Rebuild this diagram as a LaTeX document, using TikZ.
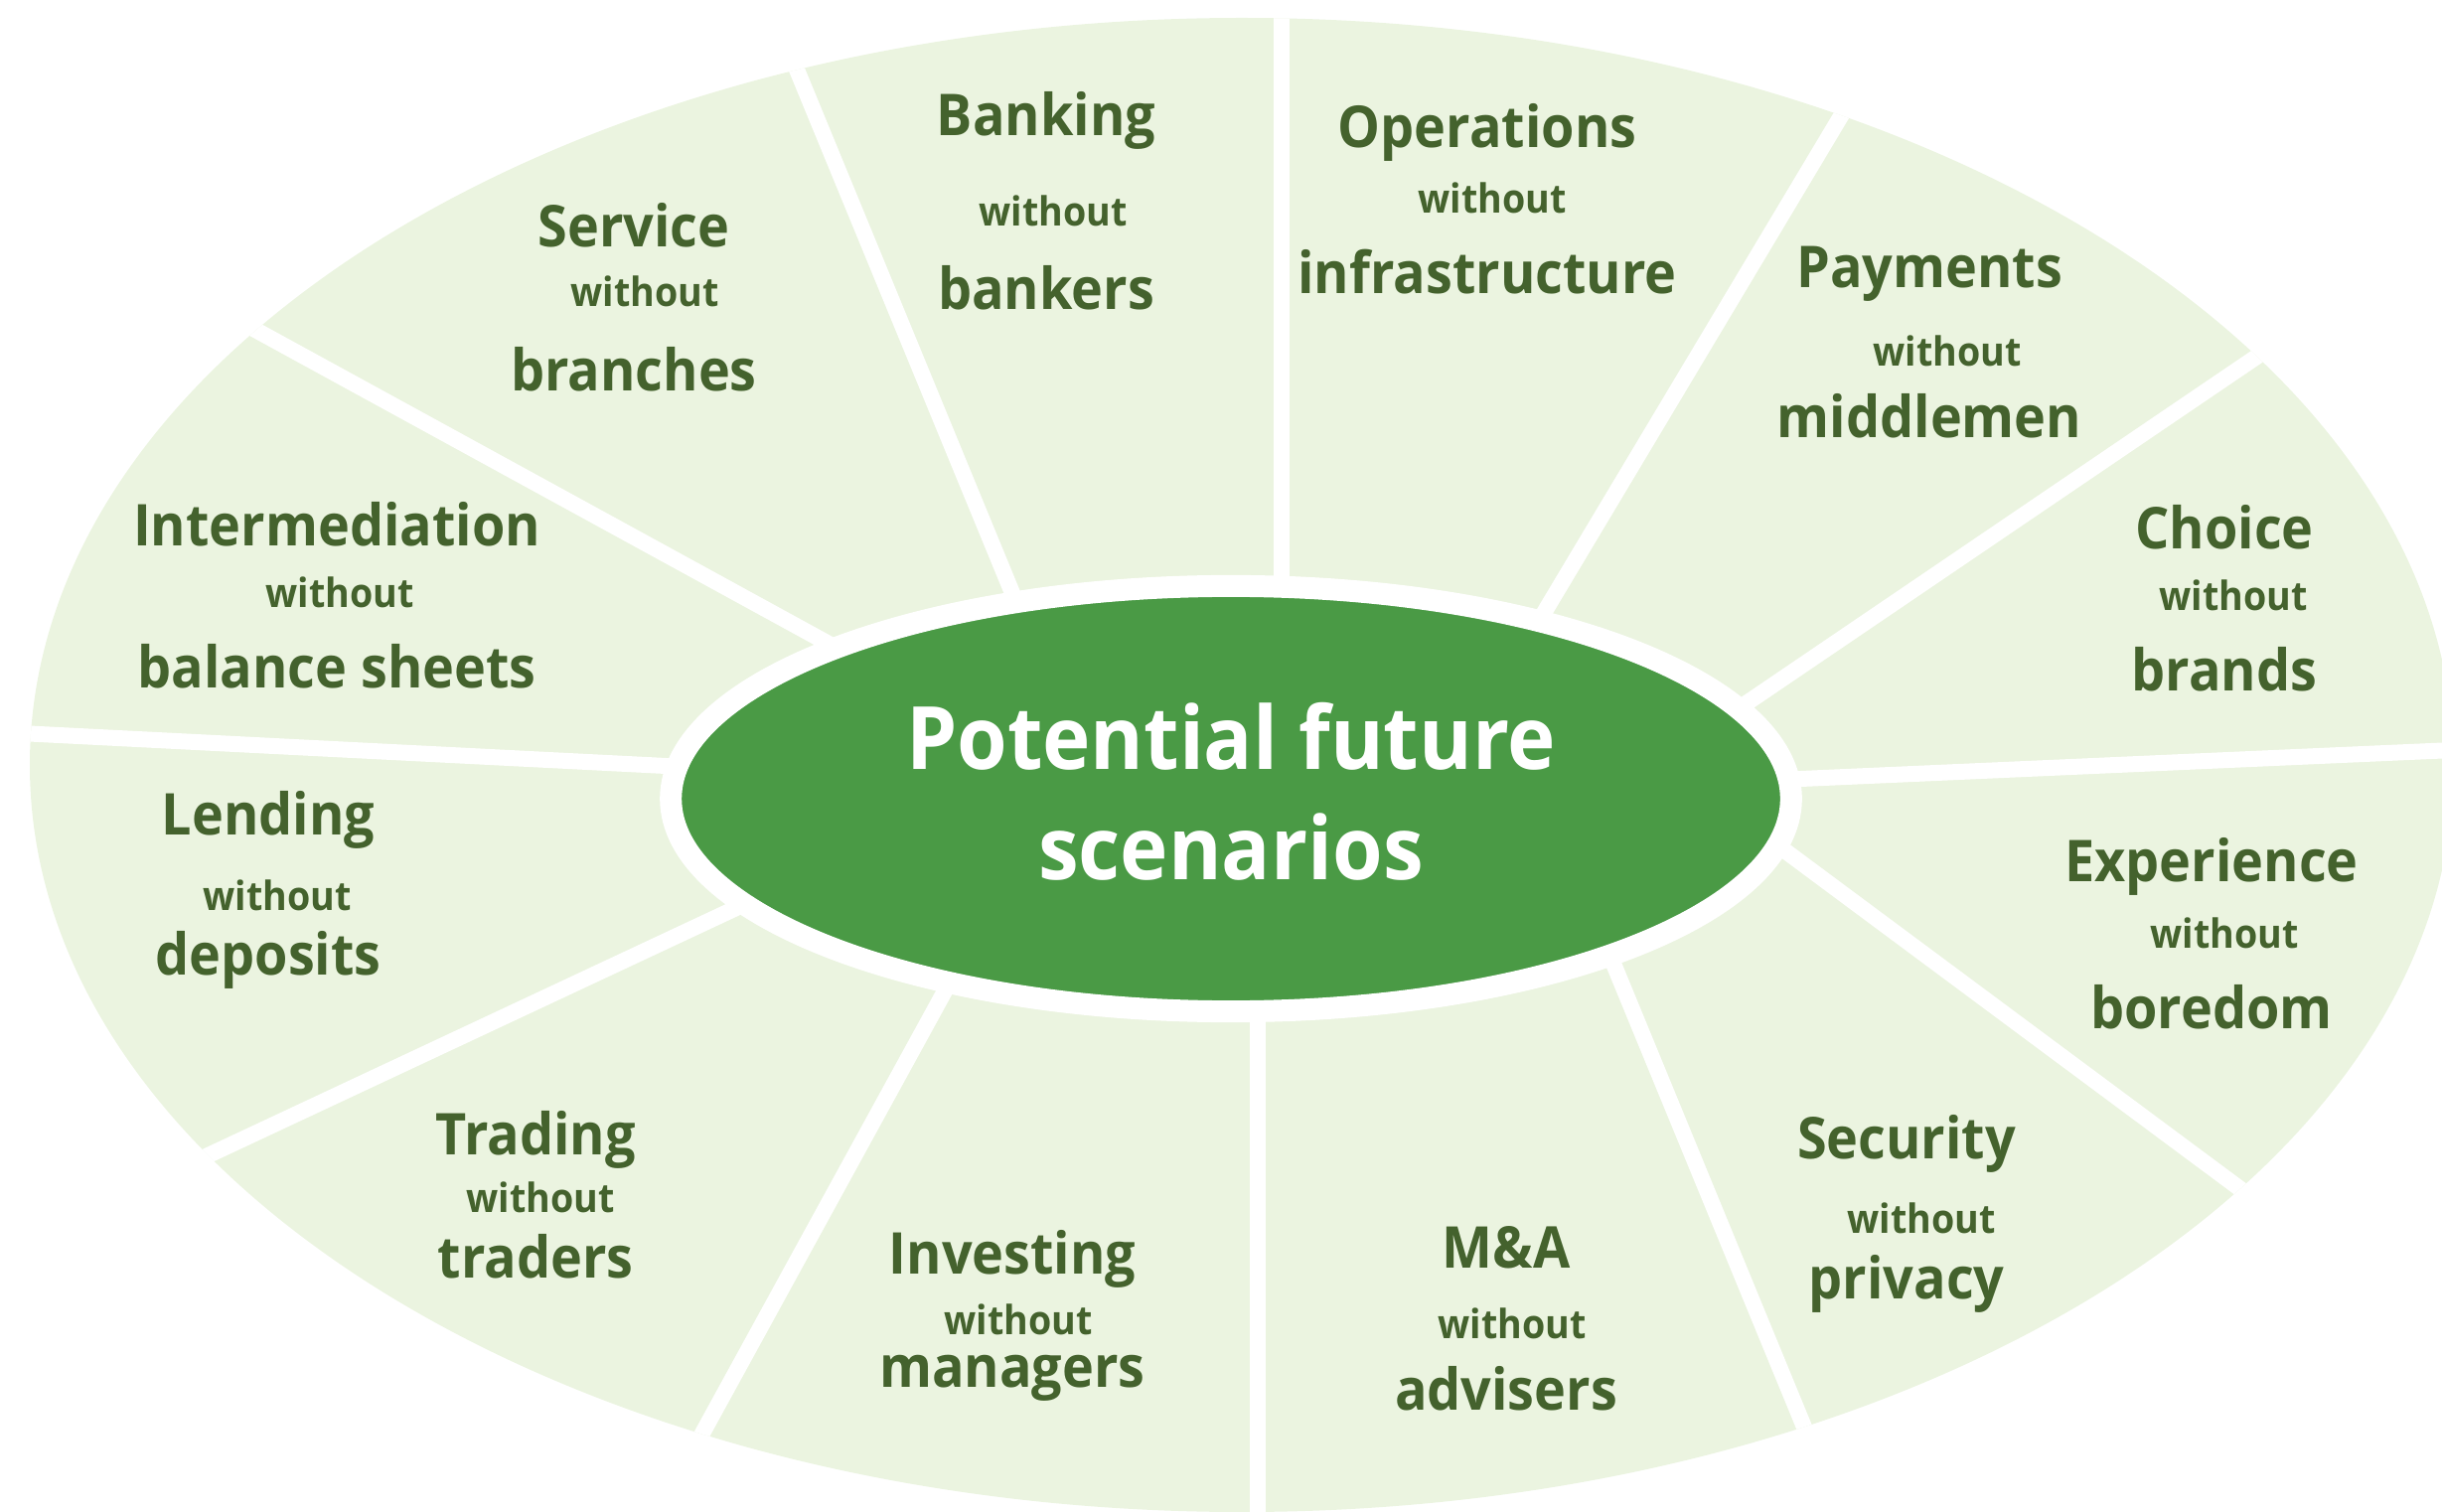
\documentclass[tikz,border=0pt]{standalone}
\usepackage{fontspec}
\setmainfont[FakeStretch=0.93]{Open Sans}
\usetikzlibrary{shapes.geometric}

\definecolor{paleleaf}{RGB}{235,244,224}
\definecolor{leaf}{RGB}{74,154,69}
\definecolor{moss}{RGB}{68,98,45}

\tikzset{
  divider/.style={white, line width=0.16cm},
  hub/.style={ellipse, fill=leaf, draw=white, line width=0.22cm,
    minimum width=11.27cm, minimum height=4.28cm, inner sep=0pt},
  hubtext/.style={text=white, align=center, inner sep=0pt,
    font=\bfseries\fontsize{25}{31.5}\selectfont},
  scenhead/.style={text=moss, inner sep=0pt, font=\bfseries\fontsize{16.5}{20}\selectfont},
  scenwo/.style={text=moss, inner sep=0pt, font=\bfseries\fontsize{11.5}{13}\selectfont}
}

\begin{document}
\begin{tikzpicture}[x=0.01cm,y=-0.01cm]

    \useasboundingbox (0,0) rectangle (2458,1522);

    % The outer ellipse
    \coordinate (O) at (1250,770);
    \fill[paleleaf] (O) ellipse [x radius=1220, y radius=752];

    % White dividers between the twelve sectors
    \begin{scope}
        \clip (O) ellipse [x radius=1220, y radius=752];
        \draw[divider] (1290,600) -- (1290,0);
        \draw[divider] (1545,632) -- (1884,65);
        \draw[divider] (1740,720) -- (2326,322);
        \draw[divider] (1790,785) -- (2470,755);
        \draw[divider] (1780,844) -- (2305,1234);
        \draw[divider] (1617,953) -- (1838,1490);
        \draw[divider] (1266,1010) -- (1266,1530);
        \draw[divider] (959,983) -- (680,1492);
        \draw[divider] (756,907) -- (154,1189);
        \draw[divider] (690,772) -- (0,737);
        \draw[divider] (847,655) -- (204,303);
        \draw[divider] (1026,614) -- (781,19);
    \end{scope}

    % Centre
    \node[hub] (hub) at (1239,804) {};
    \node[hubtext] (hubtext) at (1239,797) {Potential future\\scenarios};

    % Sector labels
    \foreach \n/\x/\xw/\ya/\yb/\yc/\head/\tail in {
        bank/1053/1060/121/212/290/Banking/bankers,
        oper/1497/1502/133/199/274/Operations/infrastructure,
        pay/1942/1960/276/353/419/Payments/middlemen,
        choice/2239/2248/531/599/674/Choice/brands,
        exp/2226/2239/872/939/1014/Experience/boredom,
        sec/1919/1934/1151/1226/1292/Security/privacy,
        ma/1516/1522/1256/1332/1398/M\&A/advisers,
        inv/1019/1025/1267/1328/1387/Investing/managers,
        trade/539/544/1147/1205/1265/Trading/traders,
        lend/270/279/825/901/966/Lending/deposits,
        inter/339/342/528/596/671/Intermediation/balance sheets,
        serv/638/649/227/293/372/Service/branches}
    {
        \node[scenhead] (\n-head) at (\x,\ya) {\head};
        \node[scenwo] (\n-wo) at (\xw,\yb) {without};
        \node[scenhead] (\n-tail) at (\x,\yc) {\tail};
    }

\end{tikzpicture}
\end{document}
